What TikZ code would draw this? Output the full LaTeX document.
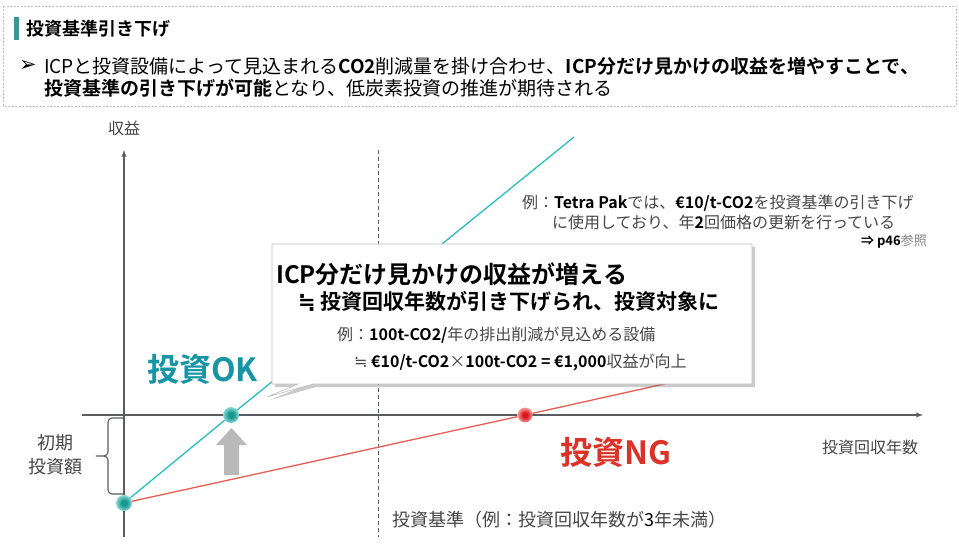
\documentclass[tikz,border=0pt]{standalone}
\usepackage{fontspec}
\setmainfont{Noto Sans CJK JP}[BoldFont={Noto Sans CJK JP Bold}]
\newfontfamily\symfont{DejaVu Sans}
\usetikzlibrary{arrows,shapes,positioning,shadows}

\definecolor{tealline}{RGB}{40,190,192}
\definecolor{tealdeep}{RGB}{20,150,140}
\definecolor{tealtext}{RGB}{22,150,165}
\definecolor{redline}{RGB}{232,92,82}
\definecolor{reddeep}{RGB}{225,20,30}
\definecolor{redtext}{RGB}{220,50,40}
\definecolor{axisgrey}{RGB}{90,92,96}
\definecolor{labelgrey}{RGB}{70,70,70}
\definecolor{bargreen}{RGB}{60,150,150}
\definecolor{arrowgrey}{RGB}{185,185,185}
\definecolor{framegrey}{RGB}{190,190,190}

\pgfdeclareradialshading{tealglow}{\pgfpoint{0bp}{0bp}}{color(0bp)=(tealdeep); color(8bp)=(tealdeep); color(28bp)=(tealline!45!white); color(50bp)=(white)}
\pgfdeclareradialshading{redglow}{\pgfpoint{0bp}{0bp}}{color(0bp)=(reddeep); color(8bp)=(reddeep); color(28bp)=(redline!45!white); color(50bp)=(white)}

\tikzset{
  axisline/.style={draw=axisgrey, line width=1.3pt},
  txt/.style={inner sep=0pt, anchor=west},
  lbl/.style={txt, text=labelgrey, font=\fontsize{16}{19}\selectfont},
  dotteal/.style={circle, inner sep=0pt, minimum size=16pt, shading=tealglow},
  dotred/.style={circle, inner sep=0pt, minimum size=15pt, shading=redglow},
  callbox/.style={rectangle callout, draw=framegrey, fill=white, line width=0.6pt,
    inner sep=0pt, callout pointer width=15pt,
    drop shadow={shadow xshift=3pt, shadow yshift=-3pt, opacity=0.35, fill=black!60}}
}

\begin{document}
\begin{tikzpicture}[x=1pt,y=-1pt]
    \useasboundingbox (0,0) rectangle (959,548);

    % header frame with title bar
    \draw[framegrey, dash pattern=on 2pt off 1.5pt, line width=0.7pt] (3,6) rectangle (956,106);
    \fill[bargreen] (14,17) rectangle (19,40);
    \node[txt, font=\fontsize{18}{21}\selectfont\bfseries] (title) at (26,29) {投資基準引き下げ};
    \node[txt, font=\symfont\fontsize{21}{24}\selectfont\bfseries] (bullet) at (19,66) {➢};
    \node[txt, font=\fontsize{19}{22}\selectfont] (head1) at (44,66)
        {ICPと投資設備によって見込まれる{\bfseries CO2}削減量を掛け合わせ、{\bfseries ICP分だけ見かけの収益を増やすことで、}};
    \node[txt, font=\fontsize{19}{22}\selectfont] (head2) at (44,88)
        {{\bfseries 投資基準の引き下げが可能}となり、低炭素投資の推進が期待される};

    % axes, y up to 150, x to 923
    \coordinate (ybot) at (124,537);
    \coordinate (ytop) at (124,150);
    \coordinate (xleft) at (82,415);
    \coordinate (xright) at (923,415);
    \draw[axisline,-latex] (ybot) -- (ytop);
    \draw[axisline,-latex] (xleft) -- (xright);
    \node[lbl] (ylabel) at (108,128) {収益};
    \node[lbl] (xlabel) at (822,447) {投資回収年数};

    % criterion line (dashed)
    \coordinate (crittop) at (378,150);
    \coordinate (critbot) at (378,537);
    \draw[axisgrey, line width=0.9pt, dash pattern=on 4pt off 3pt] (crittop) -- (critbot);

    % the three points
    \node[dotteal] (odot) at (124,503) {};
    \node[dotteal] (okdot) at (231,415) {};
    \node[dotred] (ngdot) at (525,415) {};

    % OK line (teal) and NG line (red)
    \coordinate (tealend) at (574,137);
    \coordinate (redend) at (700,376);
    \draw[tealline, line width=1.3pt] (odot) -- (okdot);
    \draw[tealline, line width=1.3pt] (okdot) -- (tealend);
    \draw[redline, line width=1.3pt] (odot) -- (ngdot);
    \draw[redline, line width=1.3pt] (ngdot) -- (redend);

    % callout box over the lines
    \coordinate (tip) at (267,397);
    \node[callbox, minimum width=480pt, minimum height=140pt, callout absolute pointer={(tip)}] (box) at (512,314) {};
    \node[txt, font=\fontsize{24}{28}\selectfont\bfseries] (gain) at (276,274) {ICP分だけ見かけの収益が増える};
    \node[txt, font=\fontsize{21}{25}\selectfont\bfseries] (gain2) at (298,301) {{\symfont ≒} 投資回収年数が引き下げられ、投資対象に};
    \node[txt, text=labelgrey, font=\fontsize{16}{19}\selectfont] (ex1) at (337,335)
        {例：{\bfseries\color{black} 100t-CO2/}年の排出削減が見込める設備};
    \node[txt, text=labelgrey, font=\fontsize{16}{19}\selectfont] (ex2) at (354,362)
        {{\symfont ≒} {\bfseries\color{black} €10/t-CO2}×{\bfseries\color{black} 100t-CO2 = €1,000}収益が向上};

    % note on Tetra Pak
    \node[txt, text=labelgrey, font=\fontsize{16}{19}\selectfont] (note1) at (522,203)
        {例：{\bfseries\color{black} Tetra Pak}では、{\bfseries\color{black} €10/t-CO2}を投資基準の引き下げ};
    \node[txt, text=labelgrey, font=\fontsize{16}{19}\selectfont] (note2) at (552,222)
        {に使用しており、年{\bfseries\color{black} 2}回価格の更新を行っている};
    \node[inner sep=0pt, anchor=east, text=gray, font=\fontsize{13}{15}\selectfont] (ref) at (927,241)
        {{\bfseries\color{black} ⇒ p46}参照};

    % OK / NG labels
    \node[txt, text=tealtext, font=\fontsize{32}{36}\selectfont\bfseries] (ok) at (147,369) {投資OK};
    \node[txt, text=redtext, font=\fontsize{32}{36}\selectfont\bfseries] (ng) at (560,452) {投資NG};

    % grey up arrow under the OK point
    \fill[arrowgrey] (224,475) -- (239,475) -- (239,445) -- (247,445) -- (231.5,428) -- (216,445) -- (224,445) -- cycle;

    % initial investment brace
    \draw[axisgrey, line width=1.1pt] (123,418) -- (112,418) to[out=180,in=90] (108,422) -- (108,452)
        to[out=-90,in=0] (96,456) to[out=0,in=90] (108,460) -- (108,490) to[out=-90,in=180] (112,494) -- (123,494);
    \node[lbl, anchor=center, font=\fontsize{18}{21}\selectfont] (init1) at (55,443) {初期};
    \node[lbl, anchor=center, font=\fontsize{18}{21}\selectfont] (init2) at (55,467) {投資額};

    % criterion label
    \node[lbl, font=\fontsize{18}{21}\selectfont] (crit) at (392,520) {投資基準（例：投資回収年数が{\color{black}3}年未満）};
\end{tikzpicture}
\end{document}
